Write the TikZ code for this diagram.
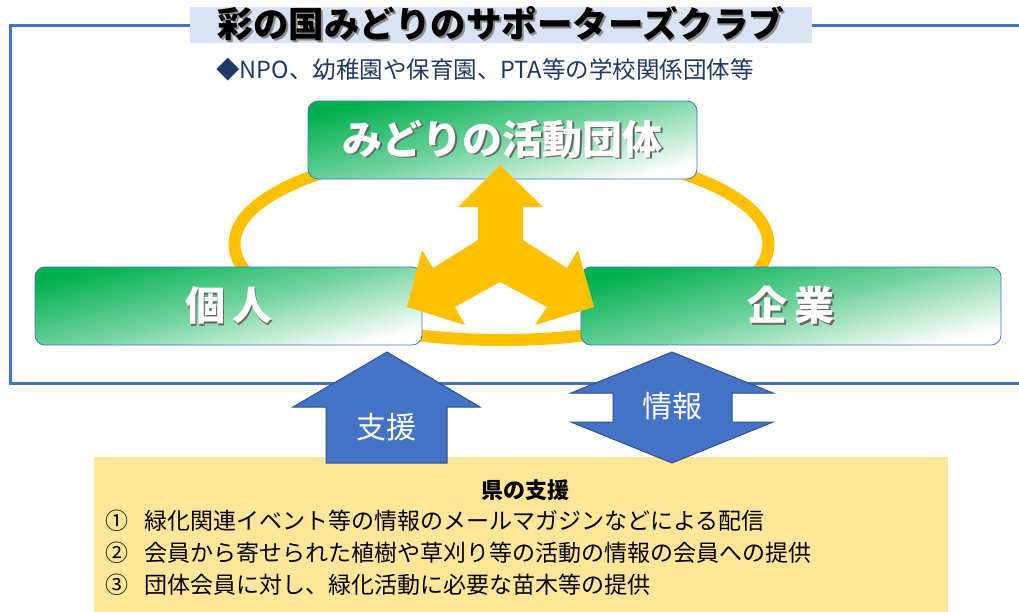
\documentclass[tikz,border=0pt]{standalone}
\usepackage{fontspec}
\setmainfont{Noto Sans CJK JP}
\newfontfamily\jp{Noto Sans CJK JP}
\definecolor{frameblue}{HTML}{4472C4}
\definecolor{darkblue}{HTML}{2F528F}
\definecolor{band}{HTML}{DAE3F3}
\definecolor{navy}{HTML}{1F3864}
\definecolor{gr}{HTML}{00B050}
\definecolor{gold}{HTML}{FFC000}
\definecolor{pale}{HTML}{FFE699}
\newcommand\shtx[2][black!60]{\leavevmode\rlap{\kern1.8pt\raisebox{-1.8pt}{\textcolor{#1}{#2}}}#2}
\tikzset{
  frame/.style={draw=frameblue, line width=3pt},
  gbox/.style={draw=frameblue, line width=0.8pt, rounded corners=10pt,
     top color=gr, bottom color=white, middle color=gr!55!white, shading angle=14,
     text=white, font=\jp\bfseries\fontsize{40}{40}\selectfont, inner sep=0pt},
  ring/.style={draw=gold, line width=12pt},
  yarrow/.style={fill=gold},
  barrow/.style={fill=frameblue, draw=darkblue, line width=1pt},
  bluelabel/.style={text=white, font=\jp\fontsize{30}{30}\selectfont, inner sep=0pt},
  item/.style={anchor=west, font=\jp\fontsize{23}{23}\selectfont, inner sep=0pt, text=black}
}
\begin{document}
\begin{tikzpicture}[x=1pt,y=-1pt]
\useasboundingbox (0,0) rectangle (1019,611);
\clip (0,0) rectangle (1019,611);
% outer frame
\draw[frame] (10,25) rectangle (1040,383);
% title band
\node[fill=band, minimum width=622, minimum height=32, inner sep=0pt,
      font=\jp\bfseries\fontsize{35.5}{35.5}\selectfont] (title) at (501,25)
      {\shtx[black!45]{彩の国みどりのサポーターズクラブ}};
\node[text=navy, font=\jp\fontsize{23.5}{23.5}\selectfont, inner sep=0pt] (sub) at (485,70)
      {◆NPO、幼稚園や保育園、PTA等の学校関係団体等};
% ring
\coordinate (rc) at (501.5,244);
\draw[ring] (rc) ellipse [x radius=267, y radius=96];
% green boxes
\node[gbox, minimum width=389, minimum height=78] (org) at (502.5,140) {\shtx{みどりの活動団体}};
\node[gbox, minimum width=387, minimum height=78] (ind) at (228.5,306) {\shtx{個\hspace{7pt}人}};
\node[gbox, minimum width=420, minimum height=78] (com) at (791,306) {\shtx{企\hspace{7pt}業}};
% three-way arrow
\fill[yarrow] (500,165) -- (543,207) -- (523,207) -- (523,240) -- (567,268) -- (578,250)
  -- (594,307) -- (535,325) -- (547,307) -- (500,282) -- (455,307) -- (465,325)
  -- (407,307) -- (422,250) -- (433,268) -- (478,240) -- (478,207) -- (458,207) -- cycle;
% yellow box
\fill[pale] (94,457) rectangle (948,620);
% blue arrows
\draw[barrow] (387,352) -- (480,407) -- (447,407) -- (447,463) -- (326,463) -- (326,407)
  -- (293,407) -- cycle;
\node[bluelabel] (shien) at (386,427) {支援};
\draw[barrow] (672,352) -- (773,393) -- (732,393) -- (732,422) -- (773,422) -- (672,463)
  -- (571,422) -- (613,422) -- (613,393) -- (571,393) -- cycle;
\node[bluelabel] (joho) at (672,406) {情報};
% text in yellow box
\node[font=\jp\bfseries\fontsize{22}{22}\selectfont, inner sep=0pt] (ken) at (525,490) {県の支援};
\node[item] (i1) at (105,521) {①\hspace{16pt}緑化関連イベント等の情報のメールマガジンなどによる配信};
\node[item] (i2) at (105,553) {②\hspace{16pt}会員から寄せられた植樹や草刈り等の活動の情報の会員への提供};
\node[item] (i3) at (105,585) {③\hspace{16pt}団体会員に対し、緑化活動に必要な苗木等の提供};
\end{tikzpicture}
\end{document}
